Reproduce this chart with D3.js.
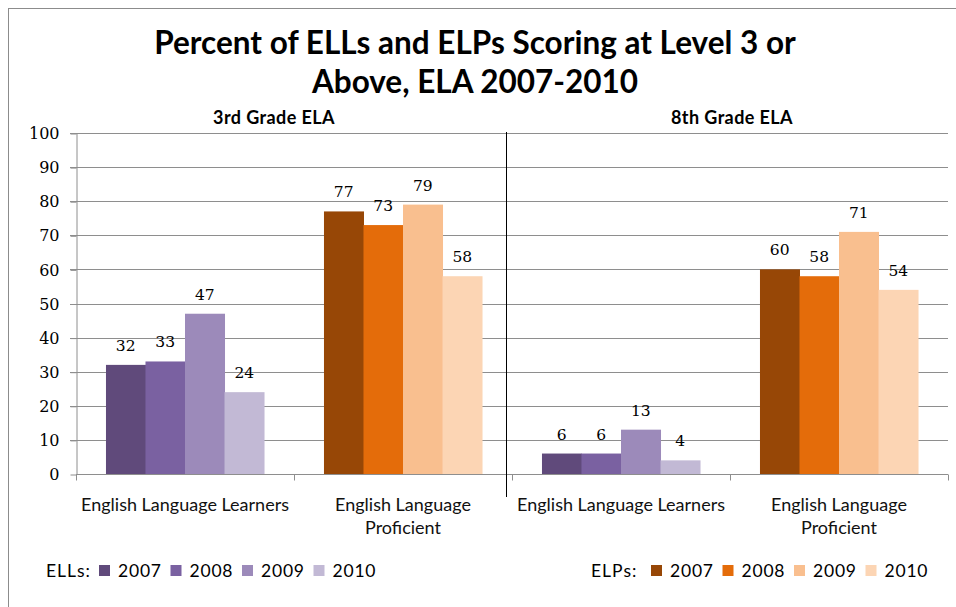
<!DOCTYPE html>
<html>
<head>
<meta charset="utf-8">
<script src="https://cdn.jsdelivr.net/npm/d3@7"></script>
<style>
  body { margin: 0; background: #fff; }
  svg { display: block; }
</style>
</head>
<body>
<svg id="chart"></svg>
<script>
// values
const years = ['2007', '2008', '2009', '2010'];
const slots = ['g3-ell', 'g3-elp', 'g8-ell', 'g8-elp'];
const slotLabels = [
  ['English Language Learners'],
  ['English Language', 'Proficient'],
  ['English Language Learners'],
  ['English Language', 'Proficient']
];
const grade3Ell = [32, 33, 47, 24];
const grade3Elp = [77, 73, 79, 58];
const grade8Ell = [6, 6, 13, 4];
const grade8Elp = [60, 58, 71, 54];
const yTicks = [0, 10, 20, 30, 40, 50, 60, 70, 80, 90, 100];
const ellColors = ['#604a7b', '#7a61a1', '#9c8aba', '#c2b9d5'];
const elpColors = ['#974706', '#e46c0a', '#f9bf8f', '#fcd5b4'];

const W = 956, H = 607;
const margin = { top: 133, right: 8, bottom: 133, left: 76 };

const svg = d3.select('#chart').attr('width', W).attr('height', H);

// outer chart border (only top/left edges fall inside the picture)
svg.append('rect')
  .attr('x', 8.5).attr('y', 8.5)
  .attr('width', W + 20).attr('height', H + 20)
  .attr('fill', '#fff')
  .attr('stroke', '#8c8c8c');

const xScale = d3.scaleBand()
  .domain(slots)
  .range([margin.left, W - margin.right])
  .paddingInner(0.275)
  .paddingOuter(0.1375);

const yScale = d3.scaleLinear()
  .domain([0, 100])
  .range([H - margin.bottom, margin.top]);

const yearScale = d3.scaleBand()
  .domain(years)
  .range([0, xScale.bandwidth()]);

const x0 = xScale.range()[0], x1 = xScale.range()[1];

// gridlines
svg.append('g')
  .selectAll('line')
  .data(yTicks.filter(d => d > 0))
  .join('line')
  .attr('x1', x0 - 6).attr('x2', x1)
  .attr('y1', d => Math.round(yScale(d)) + 0.5)
  .attr('y2', d => Math.round(yScale(d)) + 0.5)
  .attr('stroke', '#8e8e8e');

// y axis
const yAxisG = svg.append('g')
  .attr('transform', `translate(${x0 + 0.5},0.5)`)
  .call(d3.axisLeft(yScale).tickValues(yTicks).tickSize(6).tickSizeOuter(0).tickPadding(11));
yAxisG.selectAll('path, line').attr('stroke', '#8e8e8e');
yAxisG.selectAll('text')
  .attr('font-family', 'DejaVu Serif')
  .attr('font-size', 16)
  .attr('fill', '#000');

// bars
const series = [
  { slot: 'g3-ell', values: grade3Ell, colors: ellColors },
  { slot: 'g3-elp', values: grade3Elp, colors: elpColors },
  { slot: 'g8-ell', values: grade8Ell, colors: ellColors },
  { slot: 'g8-elp', values: grade8Elp, colors: elpColors }
];

const group = svg.append('g')
  .selectAll('g')
  .data(series)
  .join('g')
  .attr('transform', d => `translate(${xScale(d.slot)},0)`);

group.selectAll('rect')
  .data(d => d.values.map((v, i) => ({ year: years[i], value: v, color: d.colors[i] })))
  .join('rect')
  .attr('x', d => yearScale(d.year))
  .attr('y', d => yScale(d.value))
  .attr('width', yearScale.bandwidth() + 0.5)
  .attr('height', d => yScale(0) - yScale(d.value))
  .attr('fill', d => d.color);

group.selectAll('text')
  .data(d => d.values.map((v, i) => ({ year: years[i], value: v })))
  .join('text')
  .attr('x', d => yearScale(d.year) + yearScale.bandwidth() / 2)
  .attr('y', d => yScale(d.value) - 14)
  .attr('text-anchor', 'middle')
  .attr('font-family', 'DejaVu Serif')
  .attr('font-size', 15.5)
  .text(d => d.value);

// category axis with ticks at slot boundaries
const boundaries = slots.map(s => xScale(s) - (xScale.step() - xScale.bandwidth()) / 2).concat([x1]);
const base = Math.round(yScale(0)) + 0.5;
svg.append('line')
  .attr('x1', x0).attr('x2', x1)
  .attr('y1', base).attr('y2', base)
  .attr('stroke', '#8e8e8e');
svg.append('g')
  .selectAll('line')
  .data(boundaries)
  .join('line')
  .attr('x1', d => Math.round(d) + 0.5).attr('x2', d => Math.round(d) + 0.5)
  .attr('y1', base).attr('y2', base + 6)
  .attr('stroke', '#8e8e8e');

// category labels
svg.append('g')
  .selectAll('text')
  .data(slots)
  .join('text')
  .attr('text-anchor', 'middle')
  .attr('font-family', 'Lato')
  .attr('font-size', 18)
  .attr('fill', '#111')
  .each(function(d, i) {
    d3.select(this).selectAll('tspan')
      .data(slotLabels[i])
      .join('tspan')
      .attr('x', xScale(d) + xScale.bandwidth() / 2)
      .attr('y', (t, j) => 511 + j * 23)
      .text(t => t);
  });

// divider between grades
const divX = Math.round(boundaries[2]) - 5.5;
svg.append('line')
  .attr('x1', divX).attr('x2', divX)
  .attr('y1', margin.top - 1).attr('y2', 497)
  .attr('stroke', '#000');

// titles
const title = svg.append('text')
  .attr('text-anchor', 'middle')
  .attr('font-family', 'Lato')
  .attr('font-weight', 'bold')
  .attr('font-size', 31.5)
  .attr('fill', '#000');
title.append('tspan').attr('x', 475).attr('y', 54).text('Percent of ELLs and ELPs Scoring at Level 3 or');
title.append('tspan').attr('x', 475).attr('y', 93).text('Above, ELA 2007-2010');

svg.append('g')
  .selectAll('text')
  .data([{ x: 274, t: '3rd Grade ELA' }, { x: 732, t: '8th Grade ELA' }])
  .join('text')
  .attr('x', d => d.x).attr('y', 124)
  .attr('text-anchor', 'middle')
  .attr('font-family', 'Lato')
  .attr('font-weight', 'bold')
  .attr('font-size', 18)
  .attr('letter-spacing', 0.4)
  .text(d => d.t);

// legends
function legend(x, label, labelOffset, colors) {
  const g = svg.append('g').attr('transform', `translate(${x},577)`);
  g.append('text')
    .attr('x', labelOffset).attr('y', 0)
    .attr('font-family', 'Lato')
    .attr('font-size', 17.5)
    .attr('letter-spacing', 1)
    .text(label);
  const item = g.selectAll('g')
    .data(years)
    .join('g')
    .attr('transform', (d, i) => `translate(${i * 71.5},0)`);
  item.append('rect')
    .attr('x', 0).attr('y', -12)
    .attr('width', 11).attr('height', 11)
    .attr('fill', (d, i) => colors[i]);
  item.append('text')
    .attr('x', 19).attr('y', 0)
    .attr('font-family', 'Lato')
    .attr('font-size', 17.5)
    .attr('letter-spacing', 0.8)
    .text(d => d);
}
legend(99, 'ELLs:', -53, ellColors);
legend(651, 'ELPs:', -60, elpColors);
</script>
</body>
</html>
